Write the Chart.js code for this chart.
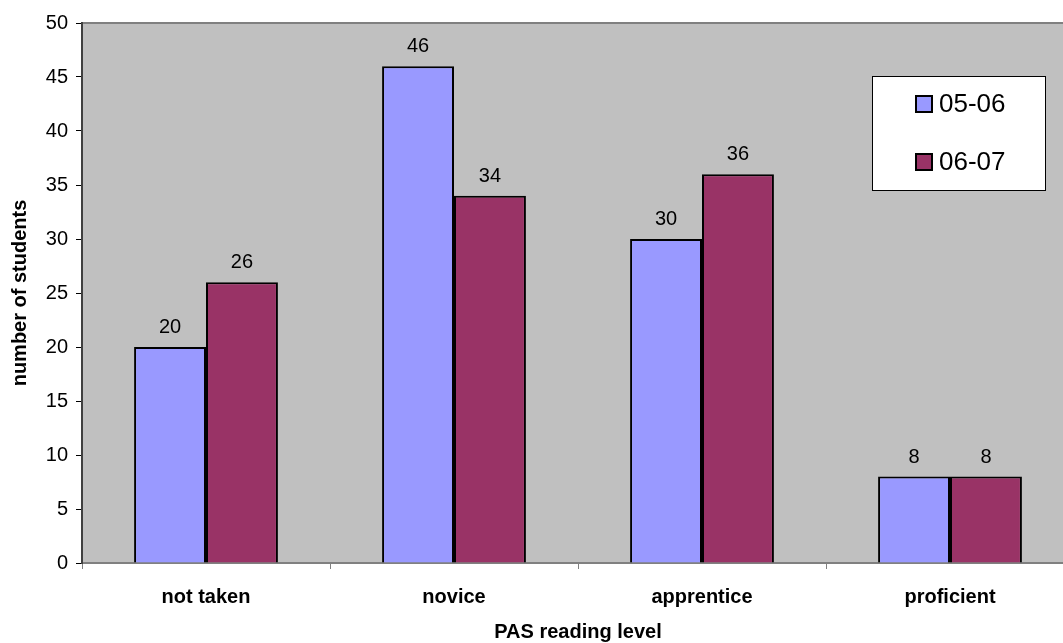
<!DOCTYPE html>
<html>
<head>
<meta charset="utf-8">
<script src="https://cdn.jsdelivr.net/npm/chart.js@4/dist/chart.umd.min.js"></script>
<style>
  html, body { margin: 0; padding: 0; background: #fff; overflow: hidden; }
  #wrap { width: 1080px; height: 643px; }
</style>
</head>
<body>
<div id="wrap"><canvas id="grafico" width="1080" height="643"></canvas></div>
<script>
// dados
const categorias = ["not taken", "novice", "apprentice", "proficient"];
const nomesSeries = ["05-06", "06-07"];
const valores0506 = [20, 46, 30, 8];
const valores0607 = [26, 34, 36, 8];
const coresSeries = ["#9999FF", "#993366"];
const eixoYMin = 0;
const eixoYMax = 50;
const eixoYPasso = 5;

const fonte = "'Liberation Sans', Arial, sans-serif";

// fundo cinza da area do grafico + linha superior
const fundoPlot = {
  id: "fundoPlot",
  beforeDraw(chart) {
    const { ctx, chartArea: a } = chart;
    ctx.save();
    ctx.fillStyle = "#C0C0C0";
    ctx.fillRect(a.left, a.top, a.right - a.left, a.bottom - a.top);
    ctx.strokeStyle = "#808080";
    ctx.lineWidth = 2;
    ctx.beginPath();
    ctx.moveTo(a.left, a.top);
    ctx.lineTo(a.right, a.top);
    ctx.stroke();
    ctx.restore();
  },
};

// rotulos de valor acima das barras
const rotulosBarras = {
  id: "rotulosBarras",
  afterDatasetsDraw(chart) {
    const ctx = chart.ctx;
    ctx.save();
    ctx.font = "20px " + fonte;
    ctx.fillStyle = "#000";
    ctx.textAlign = "center";
    ctx.textBaseline = "alphabetic";
    chart.data.datasets.forEach((ds, i) => {
      chart.getDatasetMeta(i).data.forEach((bar, j) => {
        ctx.fillText(String(ds.data[j]), bar.x, bar.y - 14);
      });
    });
    ctx.restore();
  },
};

// legenda em caixa branca dentro da area do grafico
const legendaCaixa = {
  id: "legendaCaixa",
  afterDraw(chart) {
    const ctx = chart.ctx;
    const x = 872, y = 76, w = 173, h = 114;
    ctx.save();
    ctx.fillStyle = "#fff";
    ctx.fillRect(x, y, w, h);
    ctx.strokeStyle = "#000";
    ctx.lineWidth = 1;
    ctx.strokeRect(x + 0.5, y + 0.5, w, h);
    ctx.font = "26px " + fonte;
    ctx.textBaseline = "middle";
    ctx.textAlign = "left";
    chart.data.datasets.forEach((ds, i) => {
      const cy = y + 28 + i * 58;
      ctx.fillStyle = ds.backgroundColor;
      ctx.fillRect(x + 44, cy - 8, 16, 16);
      ctx.lineWidth = 2;
      ctx.strokeStyle = "#000";
      ctx.strokeRect(x + 44, cy - 8, 16, 16);
      ctx.fillStyle = "#000";
      ctx.fillText(ds.label, x + 67, cy + 1);
    });
    ctx.restore();
  },
};

new Chart(document.getElementById("grafico"), {
  type: "bar",
  data: {
    labels: categorias,
    datasets: [
      {
        label: nomesSeries[0],
        data: valores0506,
        backgroundColor: coresSeries[0],
        borderColor: "#000",
        borderWidth: 2,
        categoryPercentage: 0.58,
        barPercentage: 1.0,
      },
      {
        label: nomesSeries[1],
        data: valores0607,
        backgroundColor: coresSeries[1],
        borderColor: "#000",
        borderWidth: 2,
        categoryPercentage: 0.58,
        barPercentage: 1.0,
      },
    ],
  },
  options: {
    responsive: false,
    animation: false,
    layout: { padding: { top: 23, right: 6, bottom: 0, left: 0 } },
    plugins: {
      legend: { display: false },
      tooltip: { enabled: false },
    },
    scales: {
      x: {
        afterFit(scale) { scale.height = 80; },
        grid: {
          drawOnChartArea: false,
          offset: true,
          tickLength: 6,
          tickColor: "#808080",
        },
        border: { color: "#808080", width: 2 },
        ticks: {
          color: "#000",
          padding: 16,
          font: { size: 20, weight: "bold", family: fonte },
        },
        title: {
          display: true,
          text: "PAS reading level",
          color: "#000",
          padding: { top: 0, bottom: 0 },
          font: { size: 20, weight: "bold", family: fonte, lineHeight: 1.1 },
        },
      },
      y: {
        min: eixoYMin,
        max: eixoYMax,
        afterFit(scale) { scale.width = 82; },
        grid: {
          drawOnChartArea: false,
          tickLength: 6,
          tickColor: "#000",
        },
        border: { color: "#404040", width: 2 },
        ticks: {
          stepSize: eixoYPasso,
          color: "#000",
          padding: 8,
          font: { size: 20, family: fonte },
        },
        title: {
          display: true,
          text: "number of students",
          color: "#000",
          padding: { top: 8, bottom: 0 },
          font: { size: 20, weight: "bold", family: fonte },
        },
      },
    },
  },
  plugins: [fundoPlot, rotulosBarras, legendaCaixa],
});
</script>
</body>
</html>
